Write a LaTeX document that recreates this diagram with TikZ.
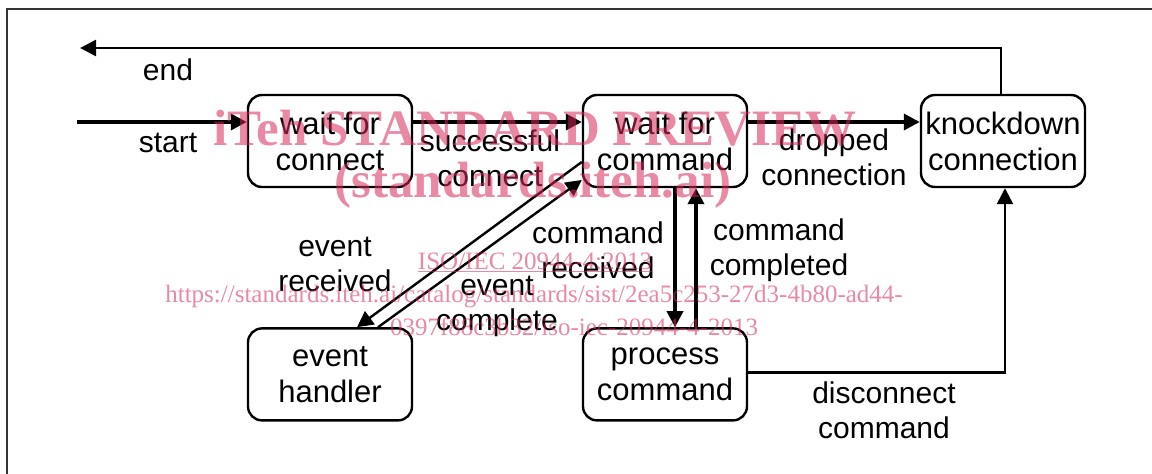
\documentclass[tikz,border=0pt]{standalone}
\usepackage{fontspec}
\setmainfont{Liberation Sans}
\newfontfamily\wmfont{Liberation Serif}
\usetikzlibrary{arrows.meta,shapes,positioning}

\begin{document}
\begin{tikzpicture}[x=1pt,y=-1pt]
    \tikzstyle{state}=[rectangle, rounded corners=14pt, draw, line width=2.4pt, minimum width=164pt, minimum height=92pt, inner sep=2pt, align=center, font=\fontsize{31}{36}\selectfont]
    \tikzstyle{lbl}=[align=center, inner sep=0pt, font=\fontsize{30}{35}\selectfont]
    \tikzstyle{connect}=[-{Triangle[length=16pt,width=16pt]}, line width=3.6pt]
    \tikzstyle{connectthin}=[-{Triangle[length=16pt,width=16pt]}, line width=2.4pt]
    \tikzstyle{wmark}=[text=wmpink, opacity=0.55, inner sep=0pt]
    \definecolor{wmpink}{RGB}{215,40,90}
    \useasboundingbox (0,0) rectangle (1152,474);
    % frame
    \draw[line width=1.6pt, black!80] (7,474) -- (7,9) -- (1152,9);
    % states
    \node[state] (wconn) at (330,141) {wait for\\connect};
    \node[state] (wcmd) [right=168.6pt of wconn] {wait for\\command};
    \node[state] (knock) [right=171.6pt of wcmd] {knockdown\\connection};
    \node[state] (handler) [below=139pt of wconn] {event\\handler};
    \node[state] (proc) [below=139pt of wcmd] {process\\command};
    \coordinate (startpt) at (77,122);
    \coordinate (endpt) at (80,48);
    % transitions
    \path (startpt) edge [connect] ([yshift=19pt]wconn.west)
    ([yshift=19pt]wconn.east) edge [connect] ([yshift=19pt]wcmd.west)
    ([yshift=19pt]wcmd.east) edge [connect] ([yshift=19pt]knock.west)
    ([xshift=10pt]wcmd.south) edge [connect] ([xshift=10pt]proc.north)
    ([xshift=31pt]proc.north) edge [connect] ([xshift=31pt]wcmd.south)
    ([yshift=-21pt]wcmd.west) edge [connectthin] ([xshift=27pt]handler.north)
    ([xshift=48pt]handler.north) edge [connectthin] ([yshift=-39pt]wcmd.west);
    \draw[connectthin] ([xshift=-2pt]knock.north) |- (endpt);
    \draw[connectthin] ([yshift=2pt]proc.east) -| ([xshift=2pt]knock.south);
    % labels
    \node[lbl] (lend) at (168,70) {end};
    \node[lbl] (lstart) at (168,143) {start};
    \node[lbl] (lsucc) at (490,158) {successful\\connect};
    \node[lbl] (ldrop) at (834,157) {dropped\\connection};
    \node[lbl] (lrecv) at (598,250) {command\\received};
    \node[lbl] (ldone) at (779,250) {command\\completed};
    \node[lbl] (levrecv) at (335,264) {event\\received};
    \node[lbl] (levdone) at (497,306) {event\\complete};
    \node[lbl] (ldisc) at (884,410) {disconnect\\command};
    % watermark
    \node[wmark, font=\wmfont\bfseries\fontsize{51}{51}\selectfont] (wm1) at (535,128) {iTeh STANDARD PREVIEW};
    \node[wmark, font=\wmfont\bfseries\fontsize{51}{51}\selectfont] (wm2) at (533,185) {(standards.iteh.ai)};
    \node[wmark, font=\wmfont\fontsize{25}{25}\selectfont] (wm3) at (535,262) {\underline{ISO/IEC 20944-4:2013}};
    \node[wmark, font=\wmfont\fontsize{25}{25}\selectfont] (wm4) at (534,297) {https://standards.iteh.ai/catalog/standards/sist/2ea5c253-27d3-4b80-ad44-};
    \node[wmark, font=\wmfont\fontsize{25}{25}\selectfont] (wm5) at (574,327) {0397f88c3b32/iso-iec-20944-4-2013};
\end{tikzpicture}
\end{document}
